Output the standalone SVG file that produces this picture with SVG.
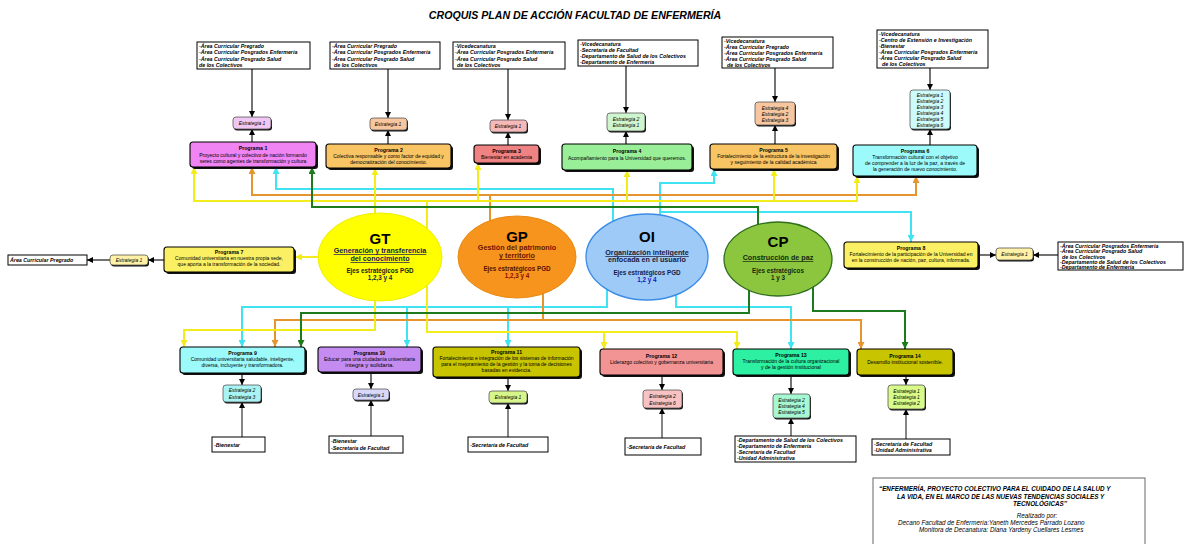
<svg xmlns="http://www.w3.org/2000/svg" width="1184" height="544" viewBox="0 0 1184 544">
<defs>
<style>
text{font-family:"Liberation Sans",Arial,sans-serif;fill:#000}
.title{font-size:10.6px;font-weight:bold;font-style:italic}
.tb{fill:#fff;stroke:#000;stroke-width:1}
.tbt{font-size:5.3px;font-weight:bold;font-style:italic}
.sh{fill:#111}
.pg{stroke:#000;stroke-width:1.1}
.pt{font-size:5px;text-anchor:middle}
.ptb{font-size:5.2px;font-weight:bold;text-anchor:middle}
.es{stroke:#555;stroke-width:0.8}
.et{font-size:5px;font-style:italic;text-anchor:middle}
.k{fill:none;stroke:#000;stroke-width:1.1}
.kg{fill:none;stroke:#444;stroke-width:1.3}
.y{fill:none;stroke:#f2ec1c;stroke-width:2}
.o{fill:none;stroke:#e6952e;stroke-width:2}
.c{fill:none;stroke:#3fe3f2;stroke-width:2}
.g{fill:none;stroke:#1d7a1d;stroke-width:2}
.eb{font-weight:bold;text-anchor:middle}
.ft{font-size:6.3px;font-style:italic}
</style>
<marker id="ak" viewBox="0 0 10 10" refX="10" refY="5" markerWidth="6" markerHeight="6" markerUnits="userSpaceOnUse" orient="auto"><path d="M0,0 L10,5 L0,10 z" fill="#000"/></marker>
<marker id="ay" viewBox="0 0 10 10" refX="10" refY="5" markerWidth="7" markerHeight="7" markerUnits="userSpaceOnUse" orient="auto"><path d="M0,0 L10,5 L0,10 z" fill="#f2ec1c"/></marker>
<marker id="ao" viewBox="0 0 10 10" refX="10" refY="5" markerWidth="7" markerHeight="7" markerUnits="userSpaceOnUse" orient="auto"><path d="M0,0 L10,5 L0,10 z" fill="#e6952e"/></marker>
<marker id="ac" viewBox="0 0 10 10" refX="10" refY="5" markerWidth="7" markerHeight="7" markerUnits="userSpaceOnUse" orient="auto"><path d="M0,0 L10,5 L0,10 z" fill="#3fe3f2"/></marker>
<marker id="ag" viewBox="0 0 10 10" refX="10" refY="5" markerWidth="7" markerHeight="7" markerUnits="userSpaceOnUse" orient="auto"><path d="M0,0 L10,5 L0,10 z" fill="#1d7a1d"/></marker>
</defs>
<rect width="1184" height="544" fill="#fff"/>
<text class="title" x="575" y="19" text-anchor="middle">CROQUIS PLAN DE ACCIÓN FACULTAD DE ENFERMERÍA</text>

<g id="connectors">
<path class="k" d="M252,69 V117" marker-end="url(#ak)"/>
<path class="k" d="M252,142 V129" marker-end="url(#ak)"/>
<path class="k" d="M388,69 V118" marker-end="url(#ak)"/>
<path class="k" d="M388,144 V130" marker-end="url(#ak)"/>
<path class="k" d="M508,69 V120" marker-end="url(#ak)"/>
<path class="k" d="M508,145 V132" marker-end="url(#ak)"/>
<path class="k" d="M626,66 V113" marker-end="url(#ak)"/>
<path class="k" d="M626,144 V131" marker-end="url(#ak)"/>
<path class="k" d="M775,68 V102" marker-end="url(#ak)"/>
<path class="k" d="M775,144 V125" marker-end="url(#ak)"/>
<path class="k" d="M930,68 V90" marker-end="url(#ak)"/>
<path class="k" d="M930,145 V129" marker-end="url(#ak)"/>
<path class="k" d="M164,260 H148" marker-end="url(#ak)"/>
<path class="k" d="M110,260 H87" marker-end="url(#ak)"/>
<path class="k" d="M978,255 H996" marker-end="url(#ak)"/>
<path class="k" d="M1058,255 H1033" marker-end="url(#ak)"/>
<path class="k" d="M242,373 V385" marker-end="url(#ak)"/>
<path class="kg" d="M242,437 V402" marker-end="url(#ak)"/>
<path class="k" d="M371,372 V389" marker-end="url(#ak)"/>
<path class="kg" d="M371,436 V400" marker-end="url(#ak)"/>
<path class="k" d="M508,377 V391" marker-end="url(#ak)"/>
<path class="kg" d="M508,437 V403" marker-end="url(#ak)"/>
<path class="k" d="M662,375 V390" marker-end="url(#ak)"/>
<path class="kg" d="M662,438 V408" marker-end="url(#ak)"/>
<path class="k" d="M791,375 V394" marker-end="url(#ak)"/>
<path class="kg" d="M791,436 V418" marker-end="url(#ak)"/>
<path class="k" d="M906,375 V385" marker-end="url(#ak)"/>
<path class="kg" d="M906,439 V409" marker-end="url(#ak)"/>
<path class="c" d="M613,235 V189 H276 V167" marker-end="url(#ac)"/>
<path class="c" d="M660,230 V183 H714 V169" marker-end="url(#ac)"/>
<path class="c" d="M660,212 H911 V242" marker-end="url(#ac)"/>
<path class="c" d="M607,280 V307 H242 V347" marker-end="url(#ac)"/>
<path class="c" d="M407,307 V347" marker-end="url(#ac)"/>
<path class="c" d="M508,307 V347" marker-end="url(#ac)"/>
<path class="c" d="M676,280 V307 H791 V349" marker-end="url(#ac)"/>
<path class="o" d="M490,235 V195 H252 V167" marker-end="url(#ao)"/>
<path class="o" d="M490,195 H916 V176" marker-end="url(#ao)"/>
<path class="o" d="M543,280 V320 H275 V347" marker-end="url(#ao)"/>
<path class="o" d="M543,320 H861 V349" marker-end="url(#ao)"/>
<path class="y" d="M427,240 V201 H194 V167" marker-end="url(#ay)"/>
<path class="y" d="M427,201 H857 V176" marker-end="url(#ay)"/>
<path class="y" d="M478,201 V163" marker-end="url(#ay)"/>
<path class="y" d="M627,201 V170" marker-end="url(#ay)"/>
<path class="y" d="M774,201 V169" marker-end="url(#ay)"/>
<path class="y" d="M375,230 V168" marker-end="url(#ay)"/>
<path class="y" d="M325,257 H295" marker-end="url(#ay)"/>
<path class="y" d="M375,285 V330 H184 V347" marker-end="url(#ay)"/>
<path class="y" d="M427,270 V332 H737 V349" marker-end="url(#ay)"/>
<path class="y" d="M604,332 V349" marker-end="url(#ay)"/>
<path class="g" d="M758,240 V207 H312 V167" marker-end="url(#ag)"/>
<path class="g" d="M749,280 V313 H301 V347" marker-end="url(#ag)"/>
<path class="g" d="M813,278 V311 H905 V349" marker-end="url(#ag)"/>
</g>

<g id="tb1"><rect class="tb" x="197" y="42" width="113" height="27"/>
<text class="tbt" x="199" y="48">-Área Curricular Pregrado</text><text class="tbt" x="199" y="54.3">-Área Curricular Posgrados Enfermería</text><text class="tbt" x="199" y="60.6">-Área Curricular Posgrado Salud</text><text class="tbt" x="199" y="66.9">  de los  Colectivos</text></g>
<g id="tb2"><rect class="tb" x="330" y="42" width="110" height="27"/>
<text class="tbt" x="332" y="48">-Área Curricular Pregrado</text><text class="tbt" x="332" y="54.3">-Área Curricular Posgrados Enfermería</text><text class="tbt" x="332" y="60.6">-Área Curricular Posgrado Salud</text><text class="tbt" x="334" y="66.9">de los Colectivos</text></g>
<g id="tb3"><rect class="tb" x="453" y="42" width="112" height="27"/>
<text class="tbt" x="455" y="48">-Vicedecanatura</text><text class="tbt" x="455" y="54.3">-Área Curricular Posgrados Enfermería</text><text class="tbt" x="455" y="60.6">-Área Curricular Posgrado Salud</text><text class="tbt" x="457" y="66.9">de los Colectivos</text></g>
<g id="tb4"><rect class="tb" x="578" y="40" width="120" height="26"/>
<text class="tbt" x="580" y="46">-Vicedecanatura</text><text class="tbt" x="580" y="52">-Secretaría de Facultad</text><text class="tbt" x="580" y="58">-Departamento de Salud de los Colectivos</text><text class="tbt" x="580" y="64">-Departamento de Enfermería</text></g>
<g id="tb5"><rect class="tb" x="722" y="37" width="111" height="31"/>
<text class="tbt" x="724" y="43">-Vicedecanatura</text><text class="tbt" x="724" y="49">-Área Curricular Pregrado</text><text class="tbt" x="724" y="55">-Área Curricular Posgrados Enfermería</text><text class="tbt" x="724" y="61">-Área Curricular Posgrado Salud</text><text class="tbt" x="727" y="67">de los Colectivos</text></g>
<g id="tb6"><rect class="tb" x="877" y="30" width="111" height="38"/>
<text class="tbt" x="879" y="36">-Vicedecanatura</text><text class="tbt" x="879" y="42">-Centro de Extensión e Investigación</text><text class="tbt" x="879" y="48">-Bienestar</text><text class="tbt" x="879" y="54">-Área Curricular Posgrados Enfermería</text><text class="tbt" x="879" y="60">-Área Curricular Posgrado Salud</text><text class="tbt" x="882" y="66">de los Colectivos</text></g>
<g id="tb7"><rect class="tb" x="8" y="255" width="79" height="10"/>
<text class="tbt" x="10" y="262">Área Curricular Pregrado</text></g>
<g id="tb8"><rect class="tb" x="1058" y="242" width="125" height="28"/>
<text class="tbt" x="1060" y="247.5">-Área Curricular Posgrados Enfermería</text><text class="tbt" x="1060" y="253">-Área Curricular Posgrado Salud</text><text class="tbt" x="1062" y="258.5">de los Colectivos</text><text class="tbt" x="1060" y="264">-Departamento de Salud de los Colectivos</text><text class="tbt" x="1060" y="269.3">-Departamento de Enfermería</text></g>
<g id="tb9"><rect class="tb" x="212" y="437" width="53" height="15"/>
<text class="tbt" x="214" y="446.5">-Bienestar</text></g>
<g id="tb10"><rect class="tb" x="329" y="436" width="74" height="17"/>
<text class="tbt" x="331" y="443">-Bienestar</text><text class="tbt" x="331" y="450">-Secretaría de Facultad</text></g>
<g id="tb11"><rect class="tb" x="468" y="437" width="80" height="15"/>
<text class="tbt" x="470" y="446.5">-Secretaría de Facultad</text></g>
<g id="tb12"><rect class="tb" x="625" y="438" width="76" height="17"/>
<text class="tbt" x="627" y="448.5">-Secretaría de Facultad</text></g>
<g id="tb13"><rect class="tb" x="735" y="436" width="121" height="26"/>
<text class="tbt" x="737" y="442">-Departamento de Salud de los Colectivos</text><text class="tbt" x="737" y="448">-Departamento de Enfermería</text><text class="tbt" x="737" y="454">-Secretaría de Facultad</text><text class="tbt" x="737" y="460">-Unidad Administrativa</text></g>
<g id="tb14"><rect class="tb" x="872" y="439" width="78" height="16"/>
<text class="tbt" x="874" y="445.5">-Secretaría de Facultad</text><text class="tbt" x="874" y="452">-Unidad Administrativa</text></g>

<g id="e1"><rect class="sh" x="234" y="118.5" width="38" height="12" rx="3"/><rect class="es" x="233" y="117" width="38" height="12" rx="3" fill="#f0c6f2"/><text class="et" x="252" y="125">Estrategia 1</text></g>
<g id="e2"><rect class="sh" x="371" y="119.5" width="37" height="12" rx="3"/><rect class="es" x="370" y="118" width="37" height="12" rx="3" fill="#f8c69e"/><text class="et" x="388" y="126">Estrategia 1</text></g>
<g id="e3"><rect class="sh" x="491" y="121.5" width="37" height="12" rx="3"/><rect class="es" x="490" y="120" width="37" height="12" rx="3" fill="#f6b8b8"/><text class="et" x="508" y="128">Estrategia 1</text></g>
<g id="e4"><rect class="sh" x="608" y="114.5" width="38" height="18" rx="3"/><rect class="es" x="607" y="113" width="38" height="18" rx="3" fill="#cff5cf"/><text class="et" x="626" y="121">Estrategia 2</text><text class="et" x="626" y="127">Estrategia 1</text></g>
<g id="e5"><rect class="sh" x="756" y="103.5" width="40" height="23" rx="3"/><rect class="es" x="755" y="102" width="40" height="23" rx="3" fill="#f8c69e"/><text class="et" x="775" y="109.5">Estrategia 4</text><text class="et" x="775" y="115.5">Estrategia 2</text><text class="et" x="775" y="121.5">Estrategia 3</text></g>
<g id="e6"><rect class="sh" x="911" y="91.5" width="40" height="39" rx="3"/><rect class="es" x="910" y="90" width="40" height="39" rx="3" fill="#cdfafa"/><text class="et" x="930" y="97">Estrategia 1</text><text class="et" x="930" y="103">Estrategia 2</text><text class="et" x="930" y="109">Estrategia 3</text><text class="et" x="930" y="115">Estrategia 4</text><text class="et" x="930" y="121">Estrategia 5</text><text class="et" x="930" y="127">Estrategia 6</text></g>
<g id="e7"><rect class="sh" x="111" y="256.5" width="38" height="10" rx="3"/><rect class="es" x="110" y="255" width="38" height="10" rx="3" fill="#fff2a6"/><text class="et" x="129" y="262">Estrategia 1</text></g>
<g id="e8"><rect class="sh" x="997" y="249.5" width="37" height="12" rx="3"/><rect class="es" x="996" y="248" width="37" height="12" rx="3" fill="#fff2a6"/><text class="et" x="1014.5" y="256">Estrategia 1</text></g>
<g id="e9"><rect class="sh" x="224" y="386.5" width="38" height="17" rx="3"/><rect class="es" x="223" y="385" width="38" height="17" rx="3" fill="#a8f4f4"/><text class="et" x="242" y="392">Estrategia 2</text><text class="et" x="242" y="398.5">Estrategia 3</text></g>
<g id="e10"><rect class="sh" x="354" y="390.5" width="36" height="11" rx="3"/><rect class="es" x="353" y="389" width="36" height="11" rx="3" fill="#d8d8fa"/><text class="et" x="371" y="396.5">Estrategia 1</text></g>
<g id="e11"><rect class="sh" x="490" y="392.5" width="38" height="12" rx="3"/><rect class="es" x="489" y="391" width="38" height="12" rx="3" fill="#d6f58a"/><text class="et" x="508" y="399">Estrategia 1</text></g>
<g id="e12"><rect class="sh" x="644" y="391.5" width="39" height="18" rx="3"/><rect class="es" x="643" y="390" width="39" height="18" rx="3" fill="#f8c2c2"/><text class="et" x="662.5" y="398">Estrategia 2</text><text class="et" x="662.5" y="404.5">Estrategia 6</text></g>
<g id="e13"><rect class="sh" x="774" y="395.5" width="37" height="24" rx="3"/><rect class="es" x="773" y="394" width="37" height="24" rx="3" fill="#a6f8d2"/><text class="et" x="791.5" y="402">Estrategia 2</text><text class="et" x="791.5" y="408">Estrategia 4</text><text class="et" x="791.5" y="414">Estrategia 5</text></g>
<g id="e14"><rect class="sh" x="889" y="386.5" width="37" height="24" rx="3"/><rect class="es" x="888" y="385" width="37" height="24" rx="3" fill="#d8fa88"/><text class="et" x="906.5" y="393">Estrategia 1</text><text class="et" x="906.5" y="399">Estrategia 1</text><text class="et" x="906.5" y="405">Estrategia 2</text></g>

<g id="p1"><rect class="sh" x="192" y="144" width="126" height="25" rx="3"/><rect class="pg" x="190" y="142" width="126" height="25" rx="3" fill="#f084f2"/>
<text class="ptb" x="253" y="150">Programa 1</text><text class="pt" x="253" y="156.5">Proyecto cultural y colectivo de nación formando</text><text class="pt" x="253" y="162.5">seres como agentes de transformación y cultura</text></g>
<g id="p2"><rect class="sh" x="328" y="146" width="125" height="24" rx="3"/><rect class="pg" x="326" y="144" width="125" height="24" rx="3" fill="#f9c463"/>
<text class="ptb" x="388.5" y="151.5">Programa 2</text><text class="pt" x="388.5" y="157.5">Colectiva responsable y como factor de equidad y</text><text class="pt" x="388.5" y="163.5">democratización del conocimiento.</text></g>
<g id="p3"><rect class="sh" x="476" y="147" width="65" height="18" rx="3"/><rect class="pg" x="474" y="145" width="65" height="18" rx="3" fill="#ef8282"/>
<text class="ptb" x="506.5" y="152.5">Programa 3</text><text class="pt" x="506.5" y="158.5">Bienestar en academia</text></g>
<g id="p4"><rect class="sh" x="564" y="146" width="130" height="26" rx="3"/><rect class="pg" x="562" y="144" width="130" height="26" rx="3" fill="#98ef98"/>
<text class="ptb" x="627" y="153">Programa 4</text><text class="pt" x="627" y="160">Acompañamiento para la Universidad que queremos.</text></g>
<g id="p5"><rect class="sh" x="712" y="146" width="127" height="25" rx="3"/><rect class="pg" x="710" y="144" width="127" height="25" rx="3" fill="#f9c463"/>
<text class="ptb" x="773.5" y="152">Programa 5</text><text class="pt" x="773.5" y="158">Fortalecimiento de la estructura de la investigación</text><text class="pt" x="773.5" y="164">y seguimiento de la calidad académica</text></g>
<g id="p6"><rect class="sh" x="855" y="147" width="124" height="31" rx="3"/><rect class="pg" x="853" y="145" width="124" height="31" rx="3" fill="#9cfafa"/>
<text class="ptb" x="915" y="152.5">Programa 6</text><text class="pt" x="915" y="158.5">Transformación cultural con el objetivo</text><text class="pt" x="915" y="164.5">de comprender a la luz de la paz, a través de</text><text class="pt" x="915" y="170.5">la generación de nuevo conocimiento.</text></g>
<g id="p7"><rect class="sh" x="166" y="249" width="130" height="25" rx="3"/><rect class="pg" x="164" y="247" width="130" height="25" rx="3" fill="#fbf064"/>
<text class="ptb" x="229" y="254">Programa 7</text><text class="pt" x="229" y="260">Comunidad universitaria en nuestra propia sede,</text><text class="pt" x="229" y="266">que aporta a la transformación de la sociedad.</text></g>
<g id="p8"><rect class="sh" x="846" y="244" width="134" height="26" rx="3"/><rect class="pg" x="844" y="242" width="134" height="26" rx="3" fill="#fbf064"/>
<text class="ptb" x="911" y="249.5">Programa 8</text><text class="pt" x="911" y="255.5">Fortalecimiento de la participación de la Universidad en</text><text class="pt" x="911" y="261.5">en la construcción de nación, paz, cultura, informada.</text></g>
<g id="p9"><rect class="sh" x="182" y="349" width="125" height="26" rx="3"/><rect class="pg" x="180" y="347" width="125" height="26" rx="3" fill="#9cfafa"/>
<text class="ptb" x="242.5" y="354.5">Programa 9</text><text class="pt" x="242.5" y="360.5">Comunidad universitaria saludable, inteligente,</text><text class="pt" x="242.5" y="366.5">diversa, incluyente y transformadora.</text></g>
<g id="p10"><rect class="sh" x="320" y="349" width="103" height="25" rx="3"/><rect class="pg" x="318" y="347" width="103" height="25" rx="3" fill="#c48cf0"/>
<text class="ptb" x="369.5" y="354.5">Programa 10</text><text class="pt" x="369.5" y="360.5">Educar para una ciudadanía universitaria</text><text class="pt" x="369.5" y="367" style="font-size:6px">íntegra y solidaria.</text></g>
<g id="p11"><rect class="sh" x="435" y="349" width="147" height="30" rx="3"/><rect class="pg" x="433" y="347" width="147" height="30" rx="3" fill="#c8c400"/>
<text class="ptb" x="506.5" y="354">Programa 11</text><text class="pt" x="506.5" y="360">Fortalecimiento e integración de los sistemas de información</text><text class="pt" x="506.5" y="366">para el mejoramiento de la gestión y la toma de decisiones</text><text class="pt" x="506.5" y="372">basadas en evidencia.</text></g>
<g id="p12"><rect class="sh" x="602" y="351" width="123" height="26" rx="3"/><rect class="pg" x="600" y="349" width="123" height="26" rx="3" fill="#f39494"/>
<text class="ptb" x="661.5" y="357.5">Programa 12</text><text class="pt" x="661.5" y="364">Liderazgo colectivo y gobernanza universitaria</text></g>
<g id="p13"><rect class="sh" x="735" y="351" width="116" height="26" rx="3"/><rect class="pg" x="733" y="349" width="116" height="26" rx="3" fill="#2ef0a2"/>
<text class="ptb" x="791" y="356.5">Programa 13</text><text class="pt" x="791" y="362.5">Transformación de la cultura organizacional</text><text class="pt" x="791" y="368.5">y de la gestión institucional</text></g>
<g id="p14"><rect class="sh" x="859" y="351" width="96" height="26" rx="3"/><rect class="pg" x="857" y="349" width="96" height="26" rx="3" fill="#c8c400"/>
<text class="ptb" x="905" y="357.5">Programa 14</text><text class="pt" x="905" y="364">Desarrollo institucional sostenible.</text></g>

<g id="gt"><ellipse cx="380" cy="257" rx="62" ry="44" fill="#ffff00" stroke="#eeee00" stroke-width="1"/>
<text class="eb" x="380" y="244" style="font-size:15px">GT</text>
<text class="eb" x="380" y="253" style="font-size:7.2px;fill:#1a1a50;text-decoration:underline">Generación y transferencia</text>
<text class="eb" x="380" y="261" style="font-size:7.2px;fill:#1a1a50;text-decoration:underline">del conocimiento</text>
<text class="eb" x="380" y="273" style="font-size:6.3px;fill:#222">Ejes estratégicos PGD</text>
<text class="eb" x="380" y="280" style="font-size:6.3px;fill:#1a1a50">1,2,3 y 4</text></g>
<g id="gp"><ellipse cx="517" cy="257" rx="59" ry="41" fill="#f7941d" stroke="#e88a16" stroke-width="1"/>
<text class="eb" x="517" y="242" style="font-size:15px">GP</text>
<text class="eb" x="517" y="250" style="font-size:7.2px;fill:#6a1400">Gestión del patrimonio</text>
<text class="eb" x="517" y="258" style="font-size:7.2px;fill:#6a1400;text-decoration:underline">y territorio</text>
<text class="eb" x="517" y="271" style="font-size:6.3px;fill:#5a1000">Ejes estratégicos PGD</text>
<text class="eb" x="517" y="278" style="font-size:6.3px;fill:#8a0a00">1,2,3 y 4</text></g>
<g id="oi"><ellipse cx="647" cy="257" rx="61" ry="43" fill="#9dcaf6" stroke="#3a8ce6" stroke-width="1.3"/>
<text class="eb" x="647" y="242" style="font-size:15px">OI</text>
<text class="eb" x="647" y="255" style="font-size:7.2px;fill:#1a1a40;text-decoration:underline">Organización inteligente</text>
<text class="eb" x="647" y="262" style="font-size:7.2px;fill:#1a1a40">enfocada  en el usuario</text>
<text class="eb" x="647" y="275" style="font-size:6.3px;fill:#1a1a40">Ejes estratégicos PGD</text>
<text class="eb" x="647" y="282" style="font-size:6.3px;fill:#1515c0">1,2 y 4</text></g>
<g id="cp"><ellipse cx="778" cy="259" rx="54" ry="37" fill="#8cc63e" stroke="#2e6e1c" stroke-width="1.3"/>
<text class="eb" x="778" y="247" style="font-size:15px">CP</text>
<text class="eb" x="778" y="260" style="font-size:7.2px;fill:#102a10;text-decoration:underline">Construcción de paz</text>
<text class="eb" x="778" y="273" style="font-size:6.3px;fill:#102a10">Ejes estratégicos</text>
<text class="eb" x="778" y="280" style="font-size:6.3px;fill:#102a10">1 y 3</text></g>

<g id="footer"><rect x="873" y="478" width="272" height="80" fill="#fff" stroke="#666" stroke-width="1"/>
<text class="ft" x="879" y="491" style="font-weight:bold">“ENFERMERÍA, PROYECTO COLECTIVO PARA EL CUIDADO DE LA SALUD Y</text>
<text class="ft" x="897" y="499" style="font-weight:bold">LA VIDA, EN EL MARCO DE LAS NUEVAS TENDENCIAS SOCIALES Y</text>
<text class="ft" x="1013" y="506" style="font-weight:bold">TECNOLÓGICAS’’</text>
<text class="ft" x="1037" y="518" text-anchor="middle">Realizado por:</text>
<text class="ft" x="898" y="525">Decano Facultad de Enfermería:Yaneth Mercedes Parrado Lozano</text>
<text class="ft" x="919" y="532">Monitora de Decanatura: Diana Yardeny Cuellares Lesmes</text></g>
</svg>
